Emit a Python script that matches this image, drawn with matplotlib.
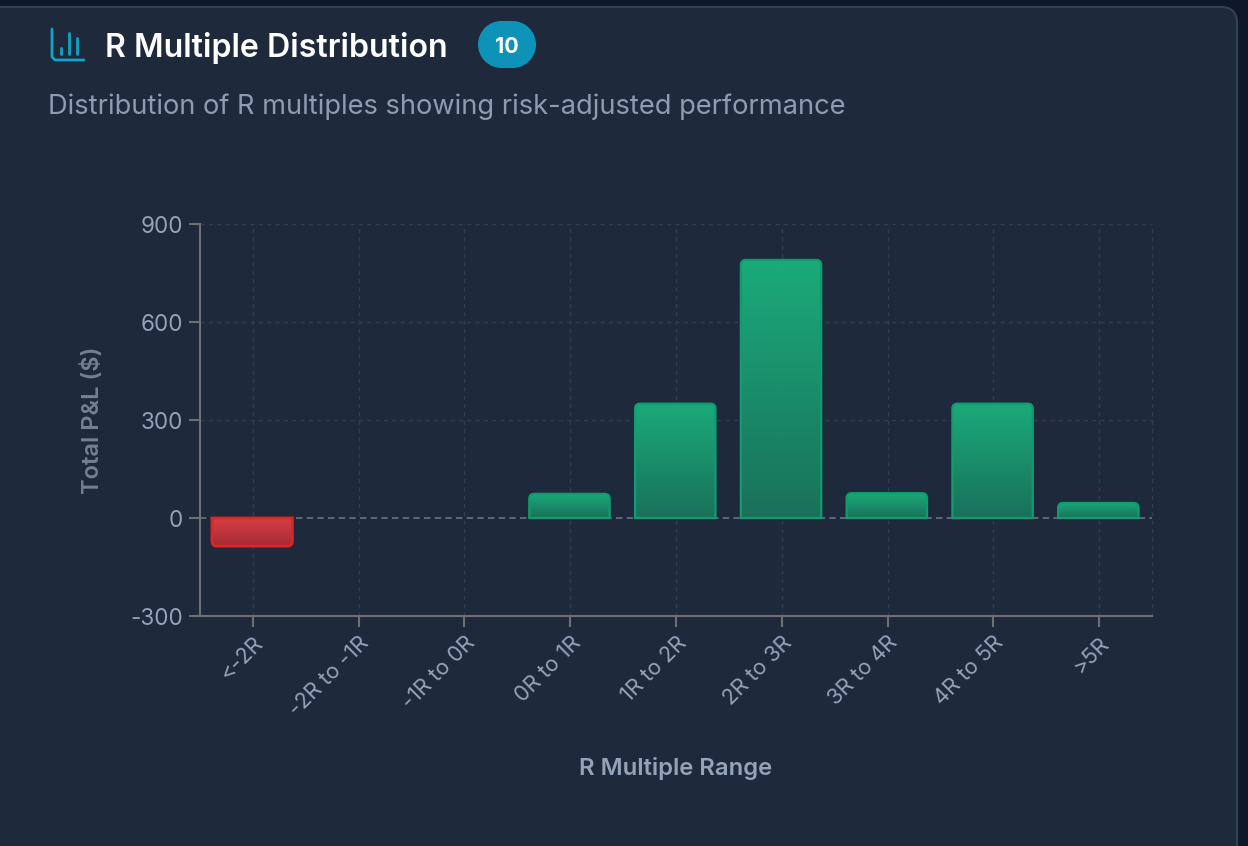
"""
R multiple distribution card, dark dashboard style.
"""
import matplotlib
matplotlib.use("Agg")
import matplotlib.pyplot as plt
import numpy as np
from matplotlib.colors import LinearSegmentedColormap
from matplotlib.patches import Circle, FancyBboxPatch, PathPatch, Rectangle
from matplotlib.path import Path

# Data
CATEGORIES = ["<-2R", "-2R to -1R", "-1R to 0R", "0R to 1R", "1R to 2R",
              "2R to 3R", "3R to 4R", "4R to 5R", ">5R"]
TOTAL_PNL = [-86, 0, 0, 74, 350, 790, 76, 350, 46]
Y_TICKS = [-300, 0, 300, 600, 900]

# Configuration
W, H = 1248, 846
OUTPUT_FILENAME = "out.png"
FONT = "Inter"
PAGE_BG = "#0f172a"
CARD_BG = "#1e293b"
CARD_EDGE = "#334155"
AXIS_COLOR = "#6f6f70"
GRID_COLOR = "#303c50"
TICK_TEXT = "#94a3b8"
GREEN_CMAP = LinearSegmentedColormap.from_list("g", ["#1bb07d", "#19745b"])
RED_CMAP = LinearSegmentedColormap.from_list("r", ["#e04146", "#a92c34"])
BAR_WIDTH = 0.76
BAR_SHIFT = -0.007


def rounded_bar(x0, x1, value, rx, ry):
    """Bar outline from the baseline, with the far corners rounded."""
    sign = 1 if value > 0 else -1
    ry = min(ry, abs(value)) * sign
    verts = [(x0, 0), (x0, value - ry), (x0, value), (x0 + rx, value),
             (x1 - rx, value), (x1, value), (x1, value - ry), (x1, 0), (x0, 0)]
    codes = [Path.MOVETO, Path.LINETO, Path.CURVE3, Path.CURVE3,
             Path.LINETO, Path.CURVE3, Path.CURVE3, Path.LINETO, Path.CLOSEPOLY]
    return Path(verts, codes)


fig = plt.figure(figsize=(W / 100, H / 100), dpi=100, facecolor=PAGE_BG)

# Card background and header drawn in pixel coordinates
bg = fig.add_axes([0, 0, 1, 1])
bg.set_xlim(0, W)
bg.set_ylim(H, 0)
bg.axis("off")
bg.add_patch(FancyBboxPatch((-30, 7), 1267, 900, boxstyle="round,pad=0,rounding_size=16",
                            fc=CARD_BG, ec=CARD_EDGE, lw=1.5))

# Icon
icon = "#0ea5c9"
bg.plot([52, 52, 55, 84], [29, 57, 60, 60], color=icon, lw=2, solid_capstyle="round")
for ix, top in zip([60.5, 68.5, 77], [48, 33, 38]):
    bg.plot([ix, ix], [top, 54], color=icon, lw=2, solid_capstyle="round")

bg.text(105, 45, "R Multiple Distribution", color="white", fontsize=23.1, family=FONT,
        fontweight="semibold", va="center_baseline", ha="left")

# Badge pill
badge = "#0e93b8"
bg.add_patch(Circle((501.5, 44.5), 23.5, fc=badge, ec="none"))
bg.add_patch(Circle((512.5, 44.5), 23.5, fc=badge, ec="none"))
bg.add_patch(Rectangle((501.5, 21), 11, 47, fc=badge, ec="none"))
bg.text(507, 45, "10", color="white", fontsize=15.5, family=FONT, fontweight="bold",
        va="center_baseline", ha="center")
bg.text(48, 104, "Distribution of R multiples showing risk-adjusted performance",
        color="#8e9cb1", fontsize=19.65, family=FONT, va="center_baseline", ha="left")

# Chart
ax = fig.add_axes([200 / W, 1 - 616 / H, 952 / W, 392 / H])
ax.set_facecolor("none")
ax.set_xlim(-0.5, len(CATEGORIES) - 0.5)
ax.set_ylim(Y_TICKS[0], Y_TICKS[-1])

x_pos = np.arange(len(CATEGORIES))
grid_style = dict(color=GRID_COLOR, lw=1, dashes=(3, 3), zorder=1)
for tick in x_pos:
    ax.axvline(tick, **grid_style)
ax.axvline(len(CATEGORIES) - 0.5, clip_on=False, **grid_style)
for tick in Y_TICKS[2:]:
    ax.axhline(tick, clip_on=False, **grid_style)
ax.axhline(0, color="#6b7280", lw=1.2, dashes=(3.8, 2.6), zorder=1.5)

# Bars: gradient clipped to a rounded outline
px_x = len(CATEGORIES) / 952
px_y = 1200 / 392
gradient = np.linspace(0, 1, 256).reshape(-1, 1)
for xp, val in zip(x_pos, TOTAL_PNL):
    if val == 0:
        continue
    x0, x1 = xp + BAR_SHIFT - BAR_WIDTH / 2, xp + BAR_SHIFT + BAR_WIDTH / 2
    path = rounded_bar(x0, x1, val, 5 * px_x, 5 * px_y)
    cmap = GREEN_CMAP if val > 0 else RED_CMAP
    edge = "#0f9d70" if val > 0 else "#dc2626"
    top, bottom = max(val, 0), min(val, 0)
    im = ax.imshow(gradient, cmap=cmap, extent=(x0, x1, bottom, top), aspect="auto",
                   origin="upper", zorder=2, interpolation="bilinear", alpha=0.97)
    patch = PathPatch(path, fc="none", ec=edge, lw=1.6 if val > 0 else 2, zorder=3)
    ax.add_patch(patch)
    im.set_clip_path(patch)
ax.set_xlim(-0.5, len(CATEGORIES) - 0.5)
ax.set_ylim(Y_TICKS[0], Y_TICKS[-1])

for side in ("top", "right"):
    ax.spines[side].set_visible(False)
for side in ("left", "bottom"):
    ax.spines[side].set_color(AXIS_COLOR)
    ax.spines[side].set_linewidth(1.5)

ax.set_yticks(Y_TICKS)
ax.set_xticks(x_pos)
ax.tick_params(axis="both", colors=AXIS_COLOR, length=8, width=1.5, pad=4)
ax.set_yticklabels([str(t) for t in Y_TICKS], color=TICK_TEXT, fontsize=16.2, family=FONT)
ax.set_xticklabels(CATEGORIES, color=TICK_TEXT, fontsize=15.8, family=FONT, rotation=45,
                   ha="right", va="top", rotation_mode="anchor")

bg.text(93, 420, "Total P&L ($)", color="#758192", fontsize=17, family=FONT,
        fontweight="semibold", rotation=90, ha="center", va="center")
bg.text(676, 769, "R Multiple Range", color="#94a3b8", fontsize=17.2, family=FONT,
        fontweight="semibold", ha="center", va="center")

try:
    fig.savefig(OUTPUT_FILENAME, dpi=100, facecolor=PAGE_BG)
    print(f"Saved {OUTPUT_FILENAME}")
except Exception as e:
    print(f"Could not save image: {e}")
